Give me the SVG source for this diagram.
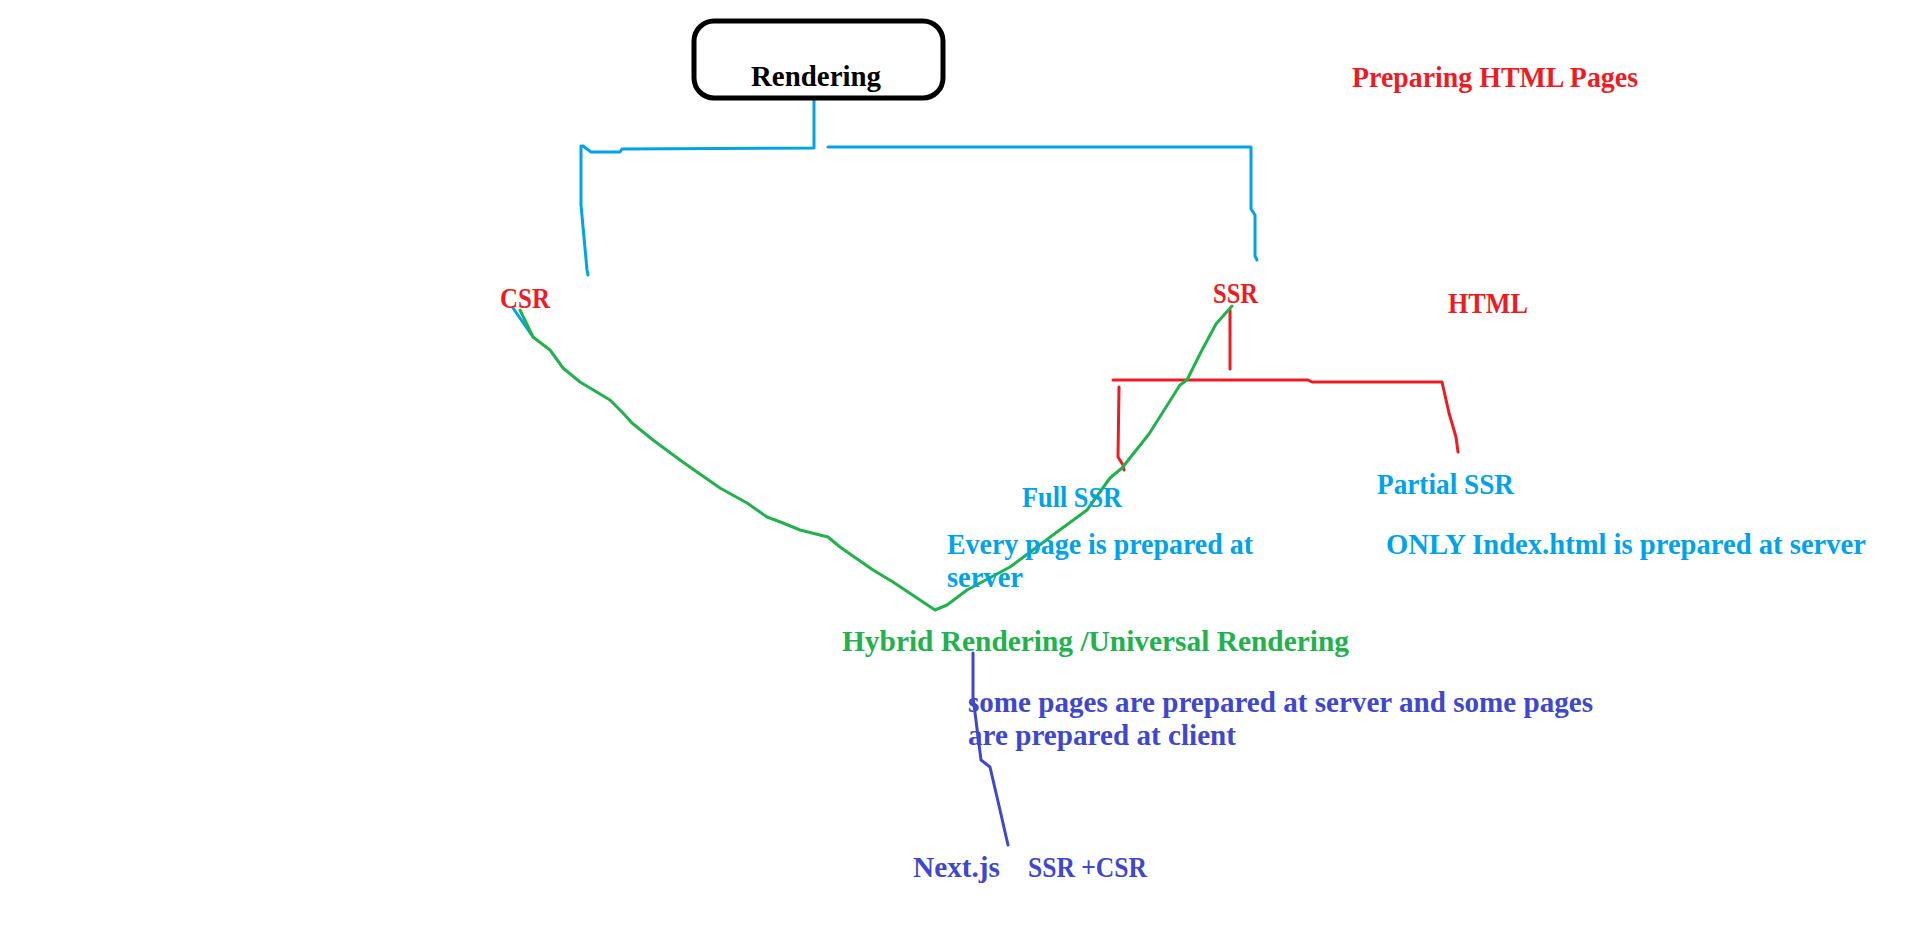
<svg xmlns="http://www.w3.org/2000/svg" width="1917" height="952" viewBox="0 0 1917 952">
<style>
text{font-family:"Liberation Serif","DejaVu Serif",serif;font-weight:bold;font-size:29px}
.red{fill:#ED1C24}.blue{fill:#00A2E8}.green{fill:#22B14C}.indigo{fill:#3F48CC}.black{fill:#000}
.ln{fill:none;stroke-width:3;stroke-linecap:round;stroke-linejoin:round}
.lb{stroke:#00A2E8}.lr{stroke:#ED1C24}.lg{stroke:#22B14C}.li{stroke:#3F48CC}
</style>
<rect width="1917" height="952" fill="#fff"/>
<g id="connectors">
<path class="ln lb" d="M814,94 L814,148 L622,149 L620,152 L591,152 L583,146 L581,146 L581,205 L587,270 L588,275"/>
<path class="ln lb" d="M828,147 L1251,147 L1251,209 L1255,215 L1255,256 L1257,260"/>
<path class="ln lb" d="M513,308 L533,337"/>
<path class="ln lr" d="M1230,310 L1230,369"/>
<path class="ln lr" d="M1113,380 L1308,380 L1312,382 L1442,382 L1449,413 L1456,437 L1458,452"/>
<path class="ln lr" d="M1119,387 L1118,457 L1123,465 L1124,470"/>
<path class="ln lg" d="M520,310 L533,337 L550,350 L563,368 L580,382 L610,400 L623,413 L632,423 L653,440 L680,460 L697,472 L720,488 L747,503 L767,517 L783,523 L800,530 L828,537 L840,547 L873,570 L893,582 L920,600 L935,610 L947,605 L967,590 L1010,567 L1057,532 L1087,510 L1110,478 L1122,468 L1149,434 L1180,385 L1187,380 L1201,352 L1216,324 L1232,306"/>
<path class="ln li" d="M973,653 L973,697 L981,760 L990,767 L1000,810 L1008,845"/>
</g>
<g id="rendering">
<rect x="694" y="21" width="249" height="77" rx="20" ry="20" fill="#fff" stroke="#000" stroke-width="5"/>
<text class="black" x="751" y="86" textLength="130" lengthAdjust="spacingAndGlyphs">Rendering</text>
</g>
<g id="preparing"><text class="red" x="1352" y="87" textLength="286" lengthAdjust="spacingAndGlyphs">Preparing HTML Pages</text></g>
<g id="csr"><text class="red" x="500" y="308" textLength="50" lengthAdjust="spacingAndGlyphs">CSR</text></g>
<g id="ssr"><text class="red" x="1213" y="303" textLength="45" lengthAdjust="spacingAndGlyphs">SSR</text></g>
<g id="html"><text class="red" x="1448" y="313" textLength="80" lengthAdjust="spacingAndGlyphs">HTML</text></g>
<g id="fullssr">
<text class="blue" x="1022" y="507" textLength="100" lengthAdjust="spacingAndGlyphs">Full SSR</text>
<text class="blue" x="947" y="554" textLength="306" lengthAdjust="spacingAndGlyphs">Every page is prepared at</text>
<text class="blue" x="947" y="587" textLength="76" lengthAdjust="spacingAndGlyphs">server</text>
</g>
<g id="partialssr">
<text class="blue" x="1377" y="494" textLength="137" lengthAdjust="spacingAndGlyphs">Partial SSR</text>
<text class="blue" x="1386" y="554" textLength="480" lengthAdjust="spacingAndGlyphs">ONLY Index.html is prepared at server</text>
</g>
<g id="hybrid"><text class="green" x="842" y="651" textLength="507" lengthAdjust="spacingAndGlyphs">Hybrid Rendering /Universal Rendering</text></g>
<g id="hybriddesc">
<text class="indigo" x="968" y="712" textLength="625" lengthAdjust="spacingAndGlyphs">some pages are prepared at server and some pages</text>
<text class="indigo" x="968" y="745" textLength="268" lengthAdjust="spacingAndGlyphs">are prepared at client</text>
</g>
<g id="nextjs">
<text class="indigo" x="913" y="877" textLength="87" lengthAdjust="spacingAndGlyphs">Next.js</text>
<text class="indigo" x="1028" y="877" textLength="119" lengthAdjust="spacingAndGlyphs">SSR +CSR</text>
</g>
</svg>
